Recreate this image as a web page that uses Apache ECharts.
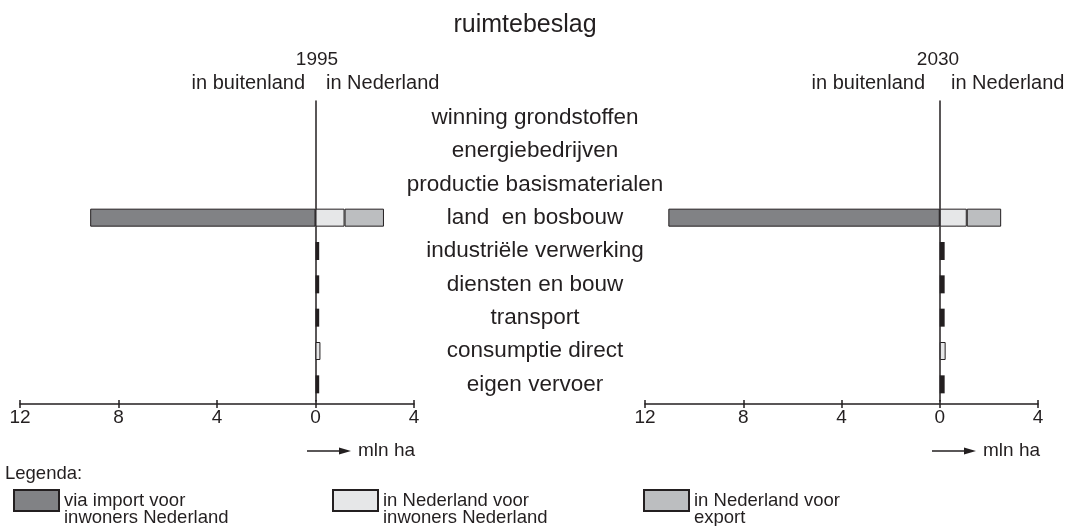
<!DOCTYPE html>
<html>
<head>
<meta charset="utf-8">
<script src="https://cdn.jsdelivr.net/npm/echarts@6/dist/echarts.min.js"></script>
<style>html,body{margin:0;padding:0;background:#fff;}#c{width:1073px;height:526px;}</style>
</head>
<body>
<div id="c"></div>
<script>
var categories = ['winning grondstoffen','energiebedrijven','productie basismaterialen','land  en bosbouw','industriële verwerking','diensten en bouw','transport','consumptie direct','eigen vervoer'];
var tickValues = [-12, -8, -4, 0, 4];
// 1995 (mln ha)
var import1995 = [null,null,null,-9.15,null,null,null,null,null];
var nlInw1995  = [null,null,null,1.18,null,null,null,0.2,null];
var export1995 = [null,null,null,1.6,null,null,null,null,null];
var overig1995 = [null,null,null,null,0.15,0.15,0.15,null,0.15];
// 2030 (mln ha)
var import2030 = [null,null,null,-11.05,null,null,null,null,null];
var nlInw2030  = [null,null,null,1.1,null,null,null,0.24,null];
var export2030 = [null,null,null,1.4,null,null,null,null,null];
var overig2030 = [null,null,null,null,0.2,0.2,0.2,null,0.2];

var names = ['via import voor\ninwoners Nederland','in Nederland voor\ninwoners Nederland','in Nederland voor\nexport'];
var FONT = 'Liberation Sans';
var INK = '#231f20';
var colors = ['#818285','#e6e7e8','#bcbec0'];

var chart = echarts.init(document.getElementById('c'));

function xAxes(gi){
  return [{
    gridIndex: gi, type: 'value', min: -12, max: 4, interval: 4, position: 'bottom', offset: 3,
    splitLine: {show:false},
    axisLine: {show:true, onZero:false, lineStyle:{color:INK, width:1.5}},
    axisTick: {show:true, length:4, lineStyle:{color:INK, width:1.5}},
    axisLabel: {show:true, margin:4, color:INK, fontFamily:FONT, fontSize:19, formatter:function(v){return Math.abs(v);}}
  },{
    gridIndex: gi, type: 'value', min: -12, max: 4, interval: 4, position: 'bottom', offset: 3,
    splitLine: {show:false},
    axisLine: {show:false},
    axisTick: {show:true, inside:true, length:4, lineStyle:{color:INK, width:1.5}},
    axisLabel: {show:false}
  }];
}
function yAxis(gi, withLabels){
  return {
    gridIndex: gi, type: 'category', data: categories, inverse: true,
    axisLine: {show:true, onZero:true, lineStyle:{color:INK, width:1.5}},
    axisTick: {show:false},
    axisLabel: withLabels ? {show:true, align:'center', margin:110, color:INK, fontFamily:FONT, fontSize:22.5} : {show:false}
  };
}
function barSeries(gi, imp, inw, exp, ov){
  var xi = gi*2, common = {type:'bar', xAxisIndex:xi, yAxisIndex:gi, stack:'s'+gi, barWidth:18, silent:true};
  return [
    Object.assign({name:names[0], data:imp, itemStyle:{color:colors[0], borderColor:INK, borderWidth:1}}, common),
    Object.assign({name:names[1], data:inw, itemStyle:{color:colors[1], borderColor:INK, borderWidth:1}}, common),
    Object.assign({name:names[2], data:exp, itemStyle:{color:colors[2], borderColor:INK, borderWidth:1}}, common),
    Object.assign({name:'overig', data:ov, itemStyle:{color:INK}}, common)
  ];
}
function legend(i, left){
  return {
    data:[names[i]], left:left, top:474, padding:0, orient:'horizontal', icon:'rect', itemWidth:45, itemHeight:21, itemGap:0,
    selectedMode:false,
    formatter:function(n){return '\n' + n;},
    textStyle:{color:INK, fontFamily:FONT, fontSize:18.5, lineHeight:17}
  };
}
function arrow(x0){
  return [
    {type:'line', shape:{x1:x0-8, y1:451, x2:x0+30, y2:451}, style:{stroke:INK, lineWidth:1.3}},
    {type:'polygon', shape:{points:[[x0+24,447.5],[x0+36,451],[x0+24,454.5]]}, style:{fill:INK}},
    {type:'text', x:x0+43, y:451, style:{text:'mln ha', fill:INK, font:'19px "'+FONT+'"', verticalAlign:'middle', align:'left'}}
  ];
}
function header(x0, year, dy, dl){
  return [
    {type:'text', x:x0+dy, y:60, style:{text:year, fill:INK, font:'19px "'+FONT+'"', align:'center', verticalAlign:'middle'}},
    {type:'text', x:x0-dl, y:83, style:{text:'in buitenland', fill:INK, font:'20px "'+FONT+'"', align:'right', verticalAlign:'middle'}},
    {type:'text', x:x0+11, y:83, style:{text:'in Nederland', fill:INK, font:'20px "'+FONT+'"', align:'left', verticalAlign:'middle'}}
  ];
}

var option = {
  backgroundColor:'#fff',
  animation:false,
  title:{text:'ruimtebeslag', left:520, textAlign:'center', top:8, textStyle:{color:INK, fontFamily:FONT, fontSize:25, fontWeight:'normal'}},
  grid:[
    {left:20, width:394, top:101, height:300},
    {left:645, width:393, top:101, height:300}
  ],
  xAxis: xAxes(0).concat(xAxes(1)),
  yAxis: [yAxis(0,false), yAxis(1,true)],
  legend:[legend(0,13), legend(1,332), legend(2,643)],
  series: barSeries(0, import1995, nlInw1995, export1995, overig1995).concat(barSeries(1, import2030, nlInw2030, export2030, overig2030)),
  graphic: [].concat(
    header(315,'1995',2,10), header(940,'2030',-2,15), arrow(315), arrow(940),
    [{type:'text', x:5, y:474, style:{text:'Legenda:', fill:INK, font:'18.5px "'+FONT+'"', verticalAlign:'middle'}}]
  )
};
chart.setOption(option);
</script>
</body>
</html>
